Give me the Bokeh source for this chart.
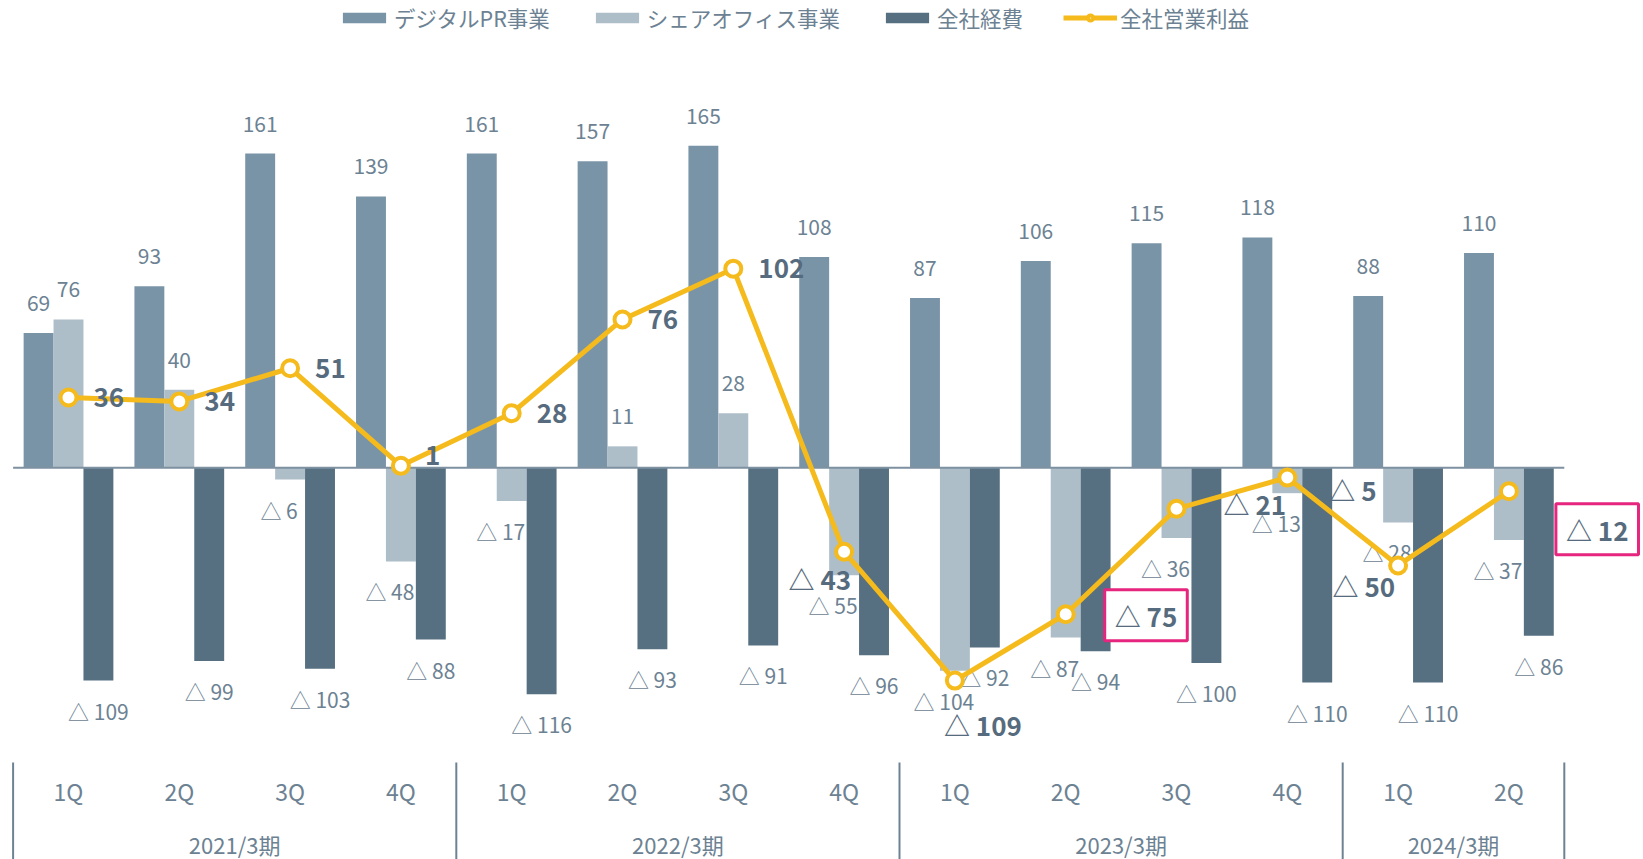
from bokeh.plotting import figure
from bokeh.models import ColumnDataSource, Range1d, Legend, LegendItem
from bokeh.core.properties import value
from bokeh.transform import dodge
from bokeh.embed import file_html
from bokeh.resources import INLINE

# ---------------- data ----------------
fiscal_years = ["2021/3期", "2022/3期", "2023/3期", "2024/3期"]
quarters_per_year = [4, 4, 4, 2]
quarter_labels = ["1Q", "2Q", "3Q", "4Q", "1Q", "2Q", "3Q", "4Q",
                  "1Q", "2Q", "3Q", "4Q", "1Q", "2Q"]
series_names = ["デジタルPR事業", "シェアオフィス事業", "全社経費", "全社営業利益"]
digital_pr = [69, 93, 161, 139, 161, 157, 165, 108, 87, 106, 115, 118, 88, 110]
share_office = [76, 40, -6, -48, -17, 11, 28, -55, -104, -87, -36, -13, -28, -37]
corporate_cost = [-109, -99, -103, -88, -116, -93, -91, -96, -92, -94, -100, -110, -110, -86]
operating_profit = [36, 34, 51, 1, 28, 76, 102, -43, -109, -75, -21, -5, -50, -12]

# label placement style for the profit line (anchor names only)
profit_label_place = ["right", "right", "right", "right_up", "right", "right", "right",
                      "left_low", "below", "box_right", "right_far", "right_far_low",
                      "left_low2", "box_low"]

# ---------------- style ----------------
C_PR = "#7A94A7"
C_SHARE = "#AEBEC9"
C_COST = "#566F81"
C_LINE = "#F5BA1B"
C_TEXT = "#6C8293"
C_BOLD = "#566B7D"
C_ZERO = "#7D91A1"
C_SEP = "#6D8393"
C_BOX = "#E6267E"
FONT_NAME = "Noto Sans CJK JP"
FONT = value(FONT_NAME)

W, H = 1643, 859
BW = 0.27
PX_X = 110.8   # px per category
PX_Y = 1.952   # px per unit
ZERO_PX = 467.3
x0 = -0.5 - 12.6 / PX_X
y0 = -(H - ZERO_PX) / PX_Y


def py(px):
    """screen row -> data value (for fixed annotation rows)"""
    return (ZERO_PX - px) / PX_Y


n = len(quarter_labels)
xs = list(range(n))


def fmt(v):
    return str(v) if v >= 0 else "△ " + str(abs(v))


p = figure(width=W, height=H, output_backend="svg", toolbar_location=None,
           x_range=Range1d(x0, x0 + W / PX_X), y_range=Range1d(y0, y0 + H / PX_Y),
           x_axis_location=None, y_axis_location=None, min_border=0,
           outline_line_color=None, background_fill_color="white",
           border_fill_color="white")
p.grid.visible = False

# ---- bar value labels (drawn below the bars) ----
for vals, off, xo_neg in [(digital_pr, -BW, 0), (share_office, 0, -11), (corporate_cost, BW, 0)]:
    src = ColumnDataSource(dict(
        x=xs, y=vals, t=[fmt(v) for v in vals],
        yo=[-30 if v >= 0 else 30 for v in vals],
        xo=[0 if v >= 0 else xo_neg for v in vals]))
    p.text(x=dodge("x", off), y="y", text="t", x_offset="xo", y_offset="yo", source=src,
           text_font=FONT, text_font_size="21px", text_color=C_TEXT,
           text_align="center", text_baseline="middle")

# ---- bars ----
bar_src = ColumnDataSource(dict(x=xs, pr=digital_pr, sh=share_office, co=corporate_cost,
                                pf=operating_profit))
r_pr = p.vbar(x=dodge("x", -BW), top="pr", bottom=0, width=BW, source=bar_src,
              fill_color=C_PR, line_color=None)
r_sh = p.vbar(x=dodge("x", 0), top="sh", bottom=0, width=BW, source=bar_src,
              fill_color=C_SHARE, line_color=None)
r_co = p.vbar(x=dodge("x", BW), top="co", bottom=0, width=BW, source=bar_src,
              fill_color=C_COST, line_color=None)

# ---- zero line and period separators ----
bounds = [-0.5]
for q in quarters_per_year:
    bounds.append(bounds[-1] + q)
p.segment(x0=[bounds[0]], x1=[bounds[-1]], y0=[0], y1=[0], line_color=C_ZERO, line_width=2)
p.segment(x0=bounds, x1=bounds, y0=[py(762)] * len(bounds), y1=[y0] * len(bounds),
          line_color=C_SEP, line_width=2)

# ---- category labels ----
p.text(x=xs, y=[py(790)] * n, text=quarter_labels,
       text_font=FONT, text_font_size="23px", text_color=C_TEXT,
       text_align="center", text_baseline="middle")
year_x = [(bounds[i] + bounds[i + 1]) / 2 for i in range(len(fiscal_years))]
p.text(x=year_x, y=[py(843)] * len(fiscal_years), text=fiscal_years,
       text_font=FONT, text_font_size="22px", text_color=C_TEXT,
       text_align="center", text_baseline="middle")

# ---- profit line ----
r_line = p.line(x="x", y="pf", source=bar_src, line_color=C_LINE, line_width=5)
r_pts = p.scatter(x="x", y="pf", source=bar_src, size=16, fill_color="white",
                  line_color=C_LINE, line_width=4)

# ---- profit labels ----
place = {
    "right": ("left", 25, 0),
    "right_up": ("left", 24, -10),
    "left_low": ("right", 7, 27),
    "below": ("center", 28, 44),
    "box_right": ("left", 39, 1),
    "right_far": ("left", 47, -5),
    "right_far_low": ("left", 42, 12),
    "left_low2": ("right", -3, 20),
    "box_low": ("left", 47, 38),
}
groups = {}
for i, pl in enumerate(profit_label_place):
    a, dx, dy = place[pl]
    boxed = pl.startswith("box")
    key = (a, boxed)
    g = groups.setdefault(key, dict(x=[], y=[], t=[], xo=[], yo=[]))
    g["x"].append(xs[i]); g["y"].append(operating_profit[i]); g["t"].append(fmt(operating_profit[i]))
    g["xo"].append(dx); g["yo"].append(dy)
for (a, boxed), g in groups.items():
    kw = {}
    if boxed:
        kw = dict(border_line_color=C_BOX, border_line_width=3, background_fill_color="white",
                  padding=(10, 7))
    p.text(x="x", y="y", text="t", x_offset="xo", y_offset="yo", source=ColumnDataSource(g),
           text_font=FONT, text_font_size="26px", text_font_style="bold",
           text_color=C_BOLD, text_align=a, text_baseline="middle", **kw)

# ---- legend ----
legend = Legend(items=[
    LegendItem(label=series_names[0], renderers=[r_pr]),
    LegendItem(label=series_names[1], renderers=[r_sh]),
    LegendItem(label=series_names[2], renderers=[r_co]),
    LegendItem(label=series_names[3], renderers=[r_line, r_pts]),
], orientation="horizontal", location=(337, H - 33), padding=0, margin=0,
    spacing=40, label_standoff=3, glyph_width=54, glyph_height=13,
    label_text_font=FONT_NAME, label_text_font_size="21.5px", label_text_color=C_TEXT,
    border_line_color=None, background_fill_alpha=0)
p.add_layout(legend)

open("out.html", "w").write(file_html(p, INLINE))
